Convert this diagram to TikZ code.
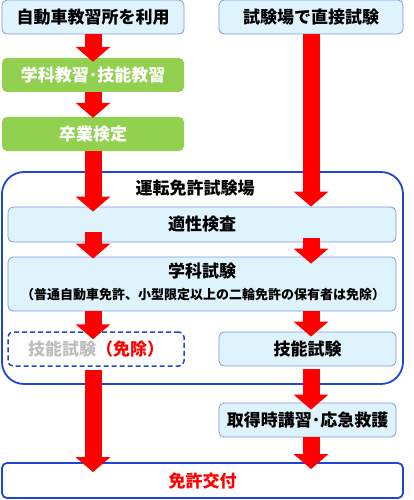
\documentclass[tikz,border=0pt]{standalone}
\usepackage{fontspec}
\setmainfont{Noto Sans CJK JP}
\usepackage{tikz}
\usetikzlibrary{arrows.meta,calc}
\definecolor{flowRed}  {RGB}{255,   0,   0}
\definecolor{flowGreen}{RGB}{146, 208,  80}
\definecolor{flowSky}  {RGB}{222, 243, 252}
\definecolor{flowEdge} {RGB}{125, 155, 225}
\definecolor{flowBlue} {RGB}{ 30,  70, 210}
\definecolor{flowGray} {RGB}{190, 190, 190}

\begin{document}
\begin{tikzpicture}[x=1pt,y=-1pt,
    skybox/.style={draw=flowEdge,fill=flowSky,rounded corners=5pt,
                   line width=0.8pt,inner sep=0pt},
    greenbox/.style={fill=flowGreen,rounded corners=5pt,text=white,inner sep=0pt},
    bigfont/.style={font=\bfseries\fontsize{17}{20}\selectfont},
    redarrow/.style={draw=flowRed,line width=17pt,
                     -{Triangle[width=34pt,length=15pt]}}]

    \fill[white] (0,0) rectangle (414,500);
    \useasboundingbox (0,0) rectangle (414,500);

    % Entradas
    \node[skybox,bigfont,minimum width=182pt,minimum height=34pt] (top1) at (93,17) {自動車教習所を利用};
    \node[skybox,bigfont,minimum width=184pt,minimum height=34pt] (top2) at (311,17) {試験場で直接試験};
    \node[greenbox,bigfont,minimum width=182pt,minimum height=34pt] (green1) at (93,75) {学科教習･技能教習};
    \node[greenbox,bigfont,minimum width=182pt,minimum height=34pt] (green2) at (93,134) {卒業検定};

    %試験場
    \node[draw=flowBlue,line width=1.8pt,rounded corners=22pt,
          minimum width=401pt,minimum height=212pt] (hall) at (202.5,278) {};
    \node[bigfont] (hallTitle) at (195,188) {運転免許試験場};
    \node[skybox,bigfont,minimum width=388pt,minimum height=35pt] (tekisei) at (202,224.5) {適性検査};
    \node[skybox,minimum width=388pt,minimum height=54pt] (gakka) at (202,284) {};
    \node[bigfont] (gakkaTitle) at (202,271) {学科試験};
    \node[font=\bfseries\fontsize{13}{15}\selectfont] (gakkaNote) at (203,295)
      {（普通自動車免許、小型限定以上の二輪免許の保有者は免除）};
    \node[draw=flowBlue,dash pattern=on 5pt off 3pt,line width=1.5pt,rounded corners=5pt,
          bigfont,minimum width=176pt,minimum height=34pt] (menjo) at (96,349)
      {\textcolor{flowGray}{技能試験}\textcolor{flowRed}{（免除）}};
    \node[skybox,bigfont,minimum width=177pt,minimum height=34pt] (ginou) at (307.5,349) {技能試験};

    % Saida
    \node[skybox,bigfont,minimum width=177pt,minimum height=34pt] (koushu) at (307.5,420) {取得時講習･応急救護};
    \node[draw=flowBlue,line width=1.8pt,rounded corners=5pt,fill=white,
          bigfont,text=flowRed,minimum width=401pt,minimum height=35pt] (menkyo) at (202.5,480.5) {免許交付};

    % Setas
    \coordinate (colL) at (93,0);
    \coordinate (colR) at (311,0);
    \foreach \a/\b/\c/\s/\e in {
      top1/green1/colL/0/4, green1/green2/colL/0/1, green2/tekisei/colL/0/5,
      top2/tekisei/colR/0/0, tekisei/gakka/colL/-10/2, tekisei/gakka/colR/-4/7,
      gakka/menjo/colL/0/8, gakka/ginou/colR/0/5, menjo/menkyo/colL/3/10,
      ginou/koushu/colR/3/7, koushu/menkyo/colR/0/7}{
      \draw[redarrow] ($(\a.south -| \c)+(0,\s)$) -- ($(\b.north -| \c)+(0,\e)$);
    }

\end{tikzpicture}
\end{document}
